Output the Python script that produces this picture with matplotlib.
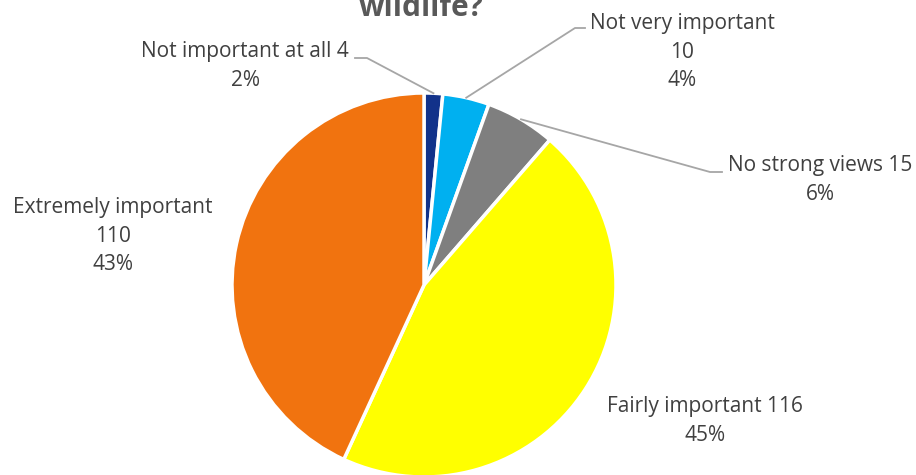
import numpy as np
import matplotlib.pyplot as plt

W, H = 916, 475

categories = ['Not important at all', 'Not very important', 'No strong views',
              'Fairly important', 'Extremely important']
counts = [4, 10, 15, 116, 110]
colors = ['#12328A', '#00B0F0', '#7F7F7F', '#FFFF00', '#F1730F']
# separator between category name and count in each label
seps = [' ', '\n', ' ', ' ', '\n']

# label block centres and leader elbows, in pixels from top-left
label_pos = [(245, 66), (682, 52), (820, 180), (705, 421), (113, 236)]
elbows = [[(355, 58), (367, 58)], [(585, 28), (575, 28)], [(722, 172), (710, 172)], None, None]

center = (424, 285)
radius = 192

plt.rcParams['font.family'] = ['Open Sans', 'DejaVu Sans']

fig = plt.figure(figsize=(W / 100, H / 100), dpi=100)
ax = fig.add_axes([0, 0, 1, 1])


def py(y):
    return H - y


wedges, _ = ax.pie(counts, colors=colors, startangle=90, counterclock=False,
                   center=(center[0], py(center[1])), radius=radius,
                   wedgeprops=dict(edgecolor='white', linewidth=2.5))
ax.set_xlim(0, W)
ax.set_ylim(0, H)
ax.set_aspect('equal')
ax.axis('off')

total = sum(counts)
for i, (name, n) in enumerate(zip(categories, counts)):
    pct = round(100 * n / total)
    txt = f"{name}{seps[i]}{n}\n{pct}%"
    x, y = label_pos[i]
    ax.text(x, py(y), txt, ha='center', va='center', fontsize=15,
            color='#404040', linespacing=1.48)
    if elbows[i]:
        w = wedges[i]
        mid = np.deg2rad((w.theta1 + w.theta2) / 2)
        ex = center[0] + radius * np.cos(mid)
        ey = py(center[1]) + radius * np.sin(mid)
        xs = [p[0] for p in elbows[i]] + [ex]
        ys = [py(p[1]) for p in elbows[i]] + [ey]
        ax.plot(xs, ys, color='#A6A6A6', lw=1.3)

# title runs off the top edge
ax.text(421, py(16), 'wildlife?', ha='center', va='baseline', fontsize=21.5,
        fontweight='bold', color='#595959')

fig.savefig('out.png', dpi=100)
